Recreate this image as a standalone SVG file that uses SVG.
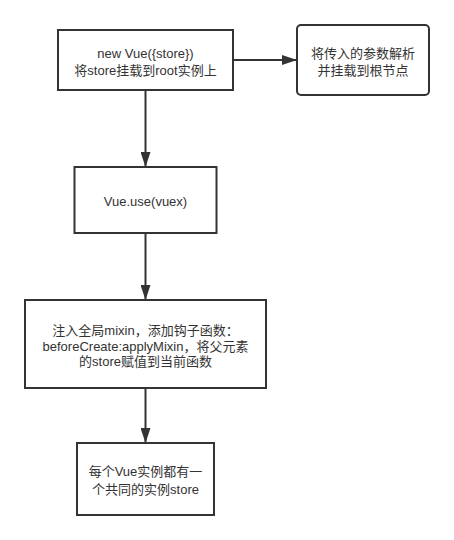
<svg xmlns="http://www.w3.org/2000/svg" width="454" height="540" viewBox="0 0 454 540">
<defs>
<style>
.box{fill:#fff;stroke:#333;stroke-width:2}
.t{font-family:"Liberation Sans","Noto Sans CJK SC",sans-serif;font-size:13px;fill:#333;text-anchor:middle}
.c{stroke:#333;stroke-width:2;fill:none}
</style>
<marker id="arr" viewBox="0 0 15 10" refX="15" refY="5" markerWidth="15" markerHeight="10" markerUnits="userSpaceOnUse" orient="auto">
<path d="M0,0 L15,5 L0,10 Z" fill="#333"/>
</marker>
</defs>
<rect width="454" height="540" fill="#fff"/>
<g id="connectors">
<line class="c" x1="233" y1="60" x2="297" y2="60" marker-end="url(#arr)"/>
<line class="c" x1="145.5" y1="90" x2="145.5" y2="167" marker-end="url(#arr)"/>
<line class="c" x1="145.5" y1="233" x2="145.5" y2="300" marker-end="url(#arr)"/>
<line class="c" x1="145.5" y1="388" x2="145.5" y2="443" marker-end="url(#arr)"/>
</g>
<g id="node1">
<rect class="box" x="58" y="30" width="175" height="60"/>
<text class="t" x="145.5" y="58">new Vue({store})</text>
<text class="t" x="145.5" y="75">将store挂载到root实例上</text>
</g>
<g id="node2">
<rect class="box" x="297" y="25" width="132" height="70" rx="4"/>
<text class="t" x="363" y="58">将传入的参数解析</text>
<text class="t" x="363" y="75">并挂载到根节点</text>
</g>
<g id="node3">
<rect class="box" x="74.5" y="167" width="142" height="66"/>
<text class="t" x="145.5" y="206">Vue.use(vuex)</text>
</g>
<g id="node4">
<rect class="box" x="25" y="300" width="241" height="88"/>
<text class="t" x="145.5" y="335">注入全局mixin，添加钩子函数：</text>
<text class="t" x="145.5" y="351">beforeCreate:applyMixin，将父元素</text>
<text class="t" x="145.5" y="366">的store赋值到当前函数</text>
</g>
<g id="node5">
<rect class="box" x="77" y="443" width="137" height="72"/>
<text class="t" x="145.5" y="476">每个Vue实例都有一</text>
<text class="t" x="145.5" y="494">个共同的实例store</text>
</g>
</svg>
